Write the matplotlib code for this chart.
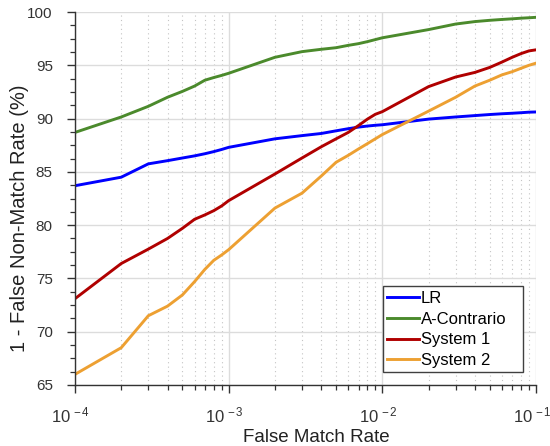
import numpy as np
import matplotlib
matplotlib.use("Agg")
import matplotlib.pyplot as plt
import matplotlib.transforms as mtransforms
from matplotlib.patches import Rectangle
from matplotlib.ticker import FixedLocator, MultipleLocator, FuncFormatter

plt.rcParams['font.family'] = ['Liberation Sans', 'DejaVu Sans']
plt.rcParams['mathtext.fontset'] = 'custom'
plt.rcParams['mathtext.rm'] = 'Liberation Sans'
plt.rcParams['mathtext.it'] = 'Liberation Sans:italic'
plt.rcParams['mathtext.bf'] = 'Liberation Sans:bold'

# ---- data ----
fmr = [1e-4, 2e-4, 3e-4, 4e-4, 5e-4, 6e-4, 7e-4, 8e-4, 9e-4,
       1e-3, 2e-3, 3e-3, 4e-3, 5e-3, 6e-3, 7e-3, 8e-3, 9e-3,
       1e-2, 2e-2, 3e-2, 4e-2, 5e-2, 6e-2, 7e-2, 8e-2, 9e-2, 1e-1]

lr = [83.7, 84.5, 85.75, 86.05, 86.3, 86.5, 86.7, 86.9, 87.1,
      87.3, 88.1, 88.4, 88.6, 88.85, 89.05, 89.2, 89.3, 89.37,
      89.42, 89.95, 90.15, 90.28, 90.38, 90.45, 90.5, 90.55, 90.6, 90.62]

a_contrario = [88.7, 90.15, 91.15, 92.0, 92.55, 93.05, 93.6, 93.85, 94.05,
               94.25, 95.75, 96.28, 96.5, 96.65, 96.87, 97.03, 97.22, 97.41,
               97.58, 98.35, 98.87, 99.1, 99.22, 99.3, 99.36, 99.42, 99.46, 99.5]

system1 = [73.1, 76.4, 77.75, 78.75, 79.7, 80.55, 80.96, 81.36, 81.8,
           82.3, 84.8, 86.3, 87.35, 88.1, 88.7, 89.35, 89.95, 90.4,
           90.65, 93.0, 93.9, 94.33, 94.8, 95.3, 95.75, 96.1, 96.35, 96.45]

system2 = [66.0, 68.5, 71.5, 72.4, 73.45, 74.7, 75.85, 76.7, 77.2,
           77.7, 81.6, 83.0, 84.6, 85.9, 86.55, 87.15, 87.65, 88.1,
           88.5, 90.7, 92.0, 93.05, 93.6, 94.1, 94.4, 94.72, 95.0, 95.2]

series = [("LR", lr, "#0000ff"),
          ("A-Contrario", a_contrario, "#4b8a2c"),
          ("System 1", system1, "#b00000"),
          ("System 2", system2, "#eda032")]

x_ticks = [1e-4, 1e-3, 1e-2, 1e-1]
y_ticks = [65, 70, 75, 80, 85, 90, 95, 100]

# ---- figure ----
W, H = 550, 446
fig = plt.figure(figsize=(5.5, 4.46), dpi=100)
ax = fig.add_axes([75/W, 1-385/H, (536-75)/W, (385-12)/H])

for name, vals, col in series:
    ax.plot(fmr, vals, color=col, lw=2.1, label=name, solid_joinstyle='round')

ax.set_xscale('log')
ax.set_xlim(1e-4, 1e-1)
ax.set_ylim(65, 100)

ax.xaxis.set_major_locator(FixedLocator(x_ticks))
minors = [k * d for d in [1e-4, 1e-3, 1e-2] for k in range(2, 10)]
ax.xaxis.set_minor_locator(FixedLocator(minors))
ax.xaxis.set_major_formatter(FuncFormatter(lambda v, p: r"$10^{\,%d}$" % int(round(np.log10(v)))))
ax.xaxis.set_minor_formatter(FuncFormatter(lambda v, p: ""))

ax.yaxis.set_major_locator(FixedLocator(y_ticks))
ax.yaxis.set_minor_locator(MultipleLocator(1.25))

ax.grid(True, which='major', color='#dcdcdc', lw=1.0, ls='-')
ax.grid(True, which='minor', axis='x', color='#c4c4c4', lw=0.8, ls=(0, (1, 3)))
ax.set_axisbelow(True)

for s in ['top', 'right']:
    ax.spines[s].set_visible(False)
for s in ['left', 'bottom']:
    ax.spines[s].set_color('#333333')
    ax.spines[s].set_linewidth(1.0)

ax.tick_params(which='major', direction='out', length=6, width=1.0, color='#333333',
               labelcolor='#333333')
ax.tick_params(axis='y', which='major', labelsize=11, pad=10)
ax.tick_params(axis='x', which='major', labelsize=12, pad=9)
ax.tick_params(which='minor', direction='out', length=3.5, width=0.9, color='#333333')

# shift x tick labels slightly left (as in the reference)
shift = mtransforms.ScaledTranslation(-4/100, 0, fig.dpi_scale_trans)
for lab in ax.get_xticklabels():
    lab.set_transform(lab.get_transform() + shift)

ax.set_xlabel("False Match Rate", fontsize=13.5, color='#222222')
ax.xaxis.set_label_coords((316-75)/461, (385-437)/373)
ax.xaxis.label.set_va('center')
ax.set_ylabel("1 - False Non-Match Rate (%)", fontsize=14.5, color='#222222')
ax.yaxis.set_label_coords((20-75)/461, (385-218)/373)
ax.yaxis.label.set_va('center')

# legend (frame drawn as a separate box to match the reference's wide MATLAB frame)
frame = Rectangle((383/W, 1-372/H), 140/W, 86/H, transform=fig.transFigure,
                  facecolor='white', edgecolor='#404040', lw=1.0, zorder=4.5,
                  clip_on=False)
ax.add_patch(frame)
leg = ax.legend(loc='upper left', bbox_to_anchor=(387/W, 1-291/H),
                bbox_transform=fig.transFigure, fontsize=12, frameon=False,
                borderpad=0, labelspacing=0.34, handlelength=1.9,
                handletextpad=0.12, borderaxespad=0)
leg.set_zorder(5)

fig.savefig("out.png", dpi=100)
